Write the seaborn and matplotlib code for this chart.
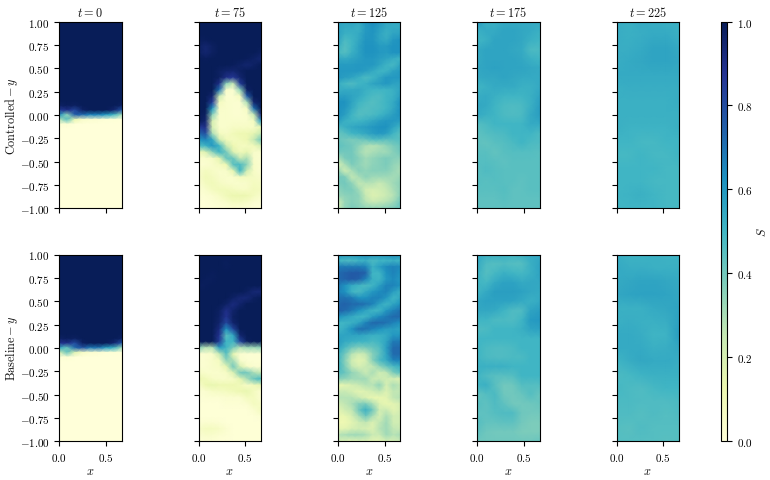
import numpy as np
import matplotlib
matplotlib.use("Agg")
import matplotlib.pyplot as plt
import seaborn as sns

# Saturation fields, in percent, rows run from y = 1 (top) to y = -1 (bottom),
# columns run from x = 0 to x = 2/3.
TOP = [100] * 9
BOTTOM = [0] * 9

CTRL_T0 = [TOP] * 18 + [
    [97, 99, 98, 100, 100, 100, 100, 100, 98],
    [85, 90, 82, 97, 100, 100, 100, 95, 78],
    [62, 35, 75, 72, 66, 66, 60, 50, 32],
    [28, 45, 14, 5, 3, 2, 1, 1, 0],
    [2, 2, 0, 0, 0, 0, 0, 0, 0],
] + [BOTTOM] * 18

BASE_T0 = [TOP] * 18 + [
    [97, 99, 98, 100, 100, 100, 100, 100, 98],
    [88, 90, 80, 98, 100, 100, 100, 95, 78],
    [55, 42, 72, 78, 68, 70, 58, 52, 32],
    [20, 42, 18, 6, 3, 2, 1, 1, 0],
    [1, 2, 0, 0, 0, 0, 0, 0, 0],
] + [BOTTOM] * 18

CTRL_T75 = [
    [100, 100, 100, 100, 100, 100, 100, 100, 100, 100],
    [100, 100, 100, 100, 100, 100, 100, 100, 100, 100],
    [100, 100, 100, 100, 100, 100, 100, 100, 100, 100],
    [99, 99, 100, 100, 100, 100, 100, 100, 100, 100],
    [98, 95, 98, 100, 100, 100, 100, 100, 100, 100],
    [98, 95, 98, 100, 100, 100, 100, 100, 100, 98],
    [100, 99, 100, 100, 100, 100, 100, 99, 97, 95],
    [100, 100, 100, 100, 100, 99, 97, 95, 97, 100],
    [100, 100, 100, 98, 96, 95, 98, 100, 100, 100],
    [100, 100, 100, 98, 90, 86, 95, 100, 100, 100],
    [100, 100, 100, 90, 35, 25, 85, 100, 100, 100],
    [100, 100, 100, 70, 5, 3, 35, 97, 100, 100],
    [100, 100, 95, 25, 3, 3, 8, 75, 100, 100],
    [100, 100, 85, 8, 4, 3, 3, 30, 95, 100],
    [100, 100, 60, 5, 4, 3, 3, 7, 70, 100],
    [100, 98, 35, 4, 4, 3, 3, 4, 25, 92],
    [100, 95, 20, 4, 4, 4, 4, 4, 8, 60],
    [85, 90, 20, 4, 4, 6, 6, 6, 6, 15],
    [72, 80, 30, 8, 6, 10, 12, 12, 15, 25],
    [60, 65, 55, 22, 10, 8, 10, 12, 25, 40],
    [45, 50, 60, 50, 25, 12, 8, 8, 10, 20],
    [10, 18, 35, 50, 40, 18, 10, 15, 5, 4],
    [3, 4, 6, 15, 42, 42, 25, 30, 5, 3],
    [3, 3, 5, 8, 12, 45, 48, 35, 6, 3],
    [4, 8, 6, 4, 5, 15, 50, 22, 6, 3],
    [5, 10, 8, 5, 4, 4, 8, 8, 7, 5],
    [3, 8, 10, 7, 5, 4, 4, 5, 8, 7],
    [2, 4, 8, 10, 10, 8, 6, 6, 9, 8],
    [1, 2, 3, 6, 10, 13, 13, 12, 8, 4],
    [1, 1, 2, 3, 5, 8, 8, 6, 3, 2],
    [0, 1, 1, 2, 2, 3, 2, 2, 1, 1],
]

BASE_T75 = [
    [100, 100, 100, 100, 100, 100, 100, 100, 100, 100],
    [100, 100, 100, 100, 99, 100, 100, 100, 100, 100],
    [100, 100, 100, 100, 99, 100, 100, 100, 100, 100],
    [100, 100, 99, 100, 100, 100, 100, 100, 100, 100],
    [100, 99, 99, 100, 100, 100, 100, 100, 100, 100],
    [99, 99, 100, 100, 100, 100, 100, 100, 100, 100],
    [100, 100, 100, 100, 100, 100, 100, 98, 94, 94],
    [100, 100, 100, 100, 100, 97, 94, 94, 98, 100],
    [100, 100, 100, 100, 97, 92, 96, 100, 100, 100],
    [100, 100, 100, 98, 90, 96, 100, 100, 100, 100],
    [100, 100, 100, 97, 88, 98, 100, 100, 100, 100],
    [100, 100, 100, 96, 82, 96, 100, 100, 100, 100],
    [100, 100, 100, 92, 62, 82, 100, 100, 100, 100],
    [100, 100, 100, 88, 45, 55, 95, 100, 100, 100],
    [100, 100, 100, 84, 50, 50, 82, 98, 100, 100],
    [36, 28, 28, 58, 50, 38, 28, 32, 32, 34],
    [3, 3, 5, 25, 45, 15, 3, 2, 2, 2],
    [2, 3, 5, 8, 35, 30, 4, 2, 2, 2],
    [3, 3, 5, 6, 15, 40, 20, 6, 3, 3],
    [6, 4, 4, 4, 6, 18, 40, 40, 30, 25],
    [12, 10, 6, 5, 5, 6, 15, 30, 42, 48],
    [4, 12, 14, 12, 12, 12, 10, 6, 10, 15],
    [2, 3, 6, 7, 8, 10, 12, 14, 8, 3],
    [1, 2, 2, 2, 3, 3, 3, 8, 8, 3],
    [1, 1, 1, 1, 2, 2, 2, 3, 8, 6],
    [1, 1, 1, 1, 1, 1, 1, 1, 3, 8],
    [1, 1, 1, 1, 1, 1, 1, 1, 1, 2],
    [2, 3, 3, 2, 1, 1, 1, 1, 1, 1],
    [5, 8, 8, 6, 3, 1, 1, 1, 1, 1],
    [3, 5, 4, 3, 2, 1, 1, 1, 1, 1],
    [1, 2, 2, 1, 1, 1, 1, 1, 1, 1],
]

CTRL_T125 = [
    [57, 55, 56, 54, 60, 64, 60, 55, 54, 54],
    [56, 54, 54, 52, 59, 62, 58, 54, 54, 54],
    [57, 52, 52, 54, 60, 61, 56, 52, 56, 57],
    [56, 48, 50, 55, 61, 61, 56, 54, 60, 62],
    [52, 46, 50, 57, 62, 62, 59, 59, 62, 62],
    [49, 46, 52, 57, 62, 62, 60, 59, 62, 62],
    [55, 54, 56, 58, 60, 60, 58, 56, 53, 50],
    [59, 59, 59, 60, 60, 60, 56, 51, 49, 56],
    [60, 60, 60, 60, 58, 54, 50, 51, 57, 59],
    [60, 58, 56, 52, 48, 50, 55, 60, 60, 60],
    [53, 49, 47, 50, 52, 56, 58, 60, 57, 56],
    [53, 54, 54, 55, 52, 50, 50, 50, 52, 56],
    [58, 58, 56, 54, 50, 48, 47, 50, 52, 58],
    [62, 62, 56, 50, 48, 46, 48, 50, 54, 62],
    [62, 60, 54, 48, 46, 47, 48, 50, 55, 62],
    [62, 58, 50, 46, 47, 48, 50, 54, 58, 62],
    [58, 52, 50, 50, 52, 55, 58, 60, 60, 58],
    [48, 52, 55, 57, 58, 60, 62, 62, 56, 50],
    [42, 45, 50, 52, 55, 58, 60, 58, 50, 45],
    [42, 40, 38, 40, 42, 46, 46, 44, 45, 45],
    [44, 42, 40, 35, 30, 28, 30, 34, 38, 42],
    [40, 40, 40, 33, 28, 30, 32, 32, 36, 40],
    [30, 38, 40, 36, 32, 34, 36, 38, 36, 35],
    [20, 30, 38, 35, 32, 35, 36, 38, 34, 32],
    [35, 22, 30, 36, 34, 36, 36, 36, 33, 30],
    [40, 38, 26, 30, 35, 32, 32, 32, 31, 33],
    [38, 40, 35, 26, 28, 28, 24, 28, 32, 35],
    [35, 38, 38, 32, 22, 20, 22, 25, 30, 35],
    [33, 35, 36, 35, 25, 18, 20, 24, 28, 36],
    [22, 33, 36, 34, 28, 24, 26, 28, 32, 40],
    [25, 34, 38, 36, 34, 34, 34, 36, 38, 42],
]

BASE_T125 = [
    [62, 60, 60, 62, 64, 62, 60, 62, 64, 62],
    [50, 48, 48, 50, 52, 48, 50, 50, 52, 50],
    [68, 68, 68, 68, 66, 52, 58, 64, 66, 64],
    [72, 74, 76, 76, 74, 50, 50, 62, 66, 62],
    [72, 74, 76, 74, 66, 52, 50, 60, 64, 60],
    [68, 62, 54, 50, 48, 50, 58, 66, 66, 62],
    [66, 62, 50, 48, 54, 60, 64, 66, 58, 52],
    [70, 70, 68, 62, 62, 66, 66, 60, 50, 55],
    [72, 74, 72, 72, 70, 66, 56, 50, 56, 62],
    [74, 72, 68, 62, 56, 50, 50, 60, 66, 70],
    [62, 58, 54, 50, 50, 58, 64, 68, 72, 72],
    [50, 50, 52, 56, 66, 72, 72, 70, 66, 62],
    [50, 54, 62, 70, 70, 66, 62, 58, 58, 56],
    [56, 56, 56, 56, 54, 52, 52, 54, 60, 60],
    [58, 54, 52, 50, 50, 48, 50, 56, 68, 68],
    [55, 48, 40, 36, 38, 42, 46, 58, 72, 72],
    [50, 40, 28, 22, 26, 36, 44, 56, 72, 72],
    [50, 36, 22, 16, 20, 36, 48, 54, 66, 66],
    [50, 38, 26, 20, 24, 26, 34, 42, 48, 52],
    [46, 42, 34, 30, 24, 30, 22, 26, 38, 44],
    [36, 34, 32, 32, 32, 24, 24, 22, 20, 18],
    [14, 16, 20, 24, 28, 28, 34, 20, 30, 26],
    [24, 24, 20, 16, 18, 22, 26, 18, 26, 26],
    [28, 28, 28, 24, 18, 14, 14, 16, 26, 28],
    [22, 26, 30, 36, 38, 30, 18, 14, 16, 20],
    [16, 22, 26, 40, 52, 40, 22, 24, 16, 20],
    [14, 14, 20, 30, 40, 30, 20, 30, 22, 22],
    [12, 12, 16, 22, 26, 18, 26, 32, 22, 22],
    [16, 16, 20, 22, 20, 18, 28, 32, 26, 24],
    [28, 30, 32, 32, 30, 24, 24, 32, 28, 30],
    [22, 18, 16, 18, 18, 16, 16, 20, 20, 24],
]

CTRL_T175 = [
    [60, 52, 52, 54, 54, 54, 54, 54],
    [52, 54, 54, 56, 56, 55, 54, 52],
    [50, 52, 56, 56, 56, 55, 52, 50],
    [54, 56, 56, 56, 55, 54, 48, 48],
    [54, 56, 56, 56, 56, 55, 52, 50],
    [55, 56, 57, 56, 56, 56, 55, 54],
    [54, 55, 55, 56, 55, 54, 54, 54],
    [50, 52, 54, 54, 54, 52, 52, 54],
    [53, 54, 52, 50, 50, 50, 52, 56],
    [55, 54, 50, 48, 47, 48, 52, 58],
    [54, 52, 50, 48, 47, 48, 54, 58],
    [46, 48, 50, 50, 50, 50, 54, 54],
    [44, 46, 47, 48, 50, 50, 50, 48],
    [44, 43, 45, 46, 48, 50, 48, 47],
    [45, 45, 43, 45, 46, 46, 46, 45],
    [46, 46, 45, 44, 45, 45, 45, 45],
    [45, 47, 46, 45, 45, 45, 45, 45],
    [46, 45, 46, 45, 45, 44, 45, 45],
    [45, 45, 45, 46, 44, 44, 45, 45],
    [44, 44, 44, 45, 44, 44, 44, 44],
    [44, 44, 44, 44, 44, 44, 44, 44],
]

BASE_T175 = [
    [54, 52, 52, 52, 50, 52, 54, 54],
    [54, 47, 46, 47, 46, 46, 52, 56],
    [52, 46, 49, 52, 50, 49, 52, 56],
    [50, 49, 54, 57, 57, 54, 55, 55],
    [50, 54, 58, 58, 58, 57, 55, 54],
    [55, 57, 57, 57, 56, 54, 52, 54],
    [55, 55, 54, 50, 47, 47, 56, 58],
    [50, 50, 48, 48, 47, 50, 59, 60],
    [47, 48, 50, 50, 50, 52, 56, 57],
    [50, 50, 50, 50, 50, 50, 50, 50],
    [50, 48, 47, 47, 48, 50, 50, 50],
    [50, 48, 47, 47, 48, 48, 50, 50],
    [52, 52, 52, 52, 50, 50, 50, 50],
    [50, 47, 45, 45, 46, 50, 50, 50],
    [50, 52, 45, 40, 41, 46, 46, 46],
    [43, 46, 48, 41, 40, 42, 46, 42],
    [46, 44, 47, 44, 40, 40, 41, 42],
    [44, 44, 46, 47, 47, 41, 40, 40],
    [46, 43, 43, 44, 44, 40, 38, 38],
    [44, 41, 40, 40, 40, 38, 38, 38],
    [41, 41, 41, 41, 41, 41, 41, 42],
]

CTRL_T225 = [
    [53, 52, 54, 53, 52, 52],
    [53, 52, 53, 54, 54, 52],
    [53, 53, 54, 56, 56, 54],
    [53, 54, 55, 56, 56, 55],
    [54, 54, 54, 54, 54, 54],
    [52, 53, 53, 53, 53, 53],
    [52, 52, 52, 52, 52, 53],
    [52, 52, 52, 52, 52, 52],
    [52, 51, 51, 51, 51, 52],
    [50, 50, 49, 49, 50, 50],
    [49, 49, 50, 49, 49, 50],
    [50, 50, 50, 50, 49, 49],
    [50, 50, 50, 49, 49, 49],
    [50, 51, 52, 50, 49, 49],
    [50, 50, 50, 50, 49, 49],
]

BASE_T225 = [
    [53, 51, 51, 52, 51, 51],
    [54, 53, 53, 52, 52, 52],
    [54, 55, 56, 56, 55, 54],
    [55, 56, 57, 57, 56, 55],
    [52, 52, 52, 54, 55, 56],
    [52, 53, 52, 52, 53, 57],
    [54, 54, 53, 50, 51, 58],
    [54, 54, 54, 52, 53, 55],
    [50, 53, 55, 54, 54, 53],
    [48, 49, 51, 52, 52, 52],
    [49, 48, 47, 49, 50, 50],
    [48, 48, 47, 47, 47, 48],
    [47, 47, 46, 47, 46, 47],
    [46, 45, 47, 46, 46, 46],
    [46, 46, 46, 46, 45, 46],
]

TIMES = [0, 75, 125, 175, 225]
ROW_NAMES = ["Controlled", "Baseline"]
FIELDS = [
    [CTRL_T0, CTRL_T75, CTRL_T125, CTRL_T175, CTRL_T225],
    [BASE_T0, BASE_T75, BASE_T125, BASE_T175, BASE_T225],
]
X_TICKS = [0.0, 0.5]
Y_TICKS = [-1.0, -0.75, -0.5, -0.25, 0.0, 0.25, 0.5, 0.75, 1.0]
CBAR_TICKS = [0.0, 0.2, 0.4, 0.6, 0.8, 1.0]
X_MAX = 2 / 3

sns.set_theme(style="ticks", rc={
    "axes.edgecolor": "black",
    "axes.linewidth": 0.8,
    "xtick.color": "black",
    "ytick.color": "black",
    "xtick.major.size": 3.5,
    "ytick.major.size": 3.5,
    "xtick.major.width": 0.8,
    "ytick.major.width": 0.8,
    "xtick.labelsize": 8,
    "ytick.labelsize": 8,
    "axes.labelsize": 8.8,
    "axes.titlesize": 8.8,
    "text.color": "#111111",
    "axes.labelcolor": "#111111",
    "mathtext.fontset": "cm",
})
plt.rcParams["font.family"] = ["cmr10", "DejaVu Serif"]
plt.rcParams["axes.formatter.use_mathtext"] = True

W, H = 770, 481
fig = plt.figure(figsize=(W / 100, H / 100), dpi=100)
cmap = sns.color_palette("YlGnBu", as_cmap=True)

COL_LEFT = [59.3, 198.6, 338.0, 477.3, 616.6]
ROW_SPAN = [(22.5, 209.3), (255.5, 442.3)]
PANEL_W = 62.2


def pixel_axes(left, top, right, bottom):
    return fig.add_axes([left / W, 1 - bottom / H, (right - left) / W, (bottom - top) / H])


def tex(value, digits):
    return f"${value:.{digits}f}$"


mesh = None
for r, (top, bottom) in enumerate(ROW_SPAN):
    for c, left in enumerate(COL_LEFT):
        ax = pixel_axes(left, top, left + PANEL_W, bottom)
        grid = np.asarray(FIELDS[r][c], dtype=float) / 100
        ny, nx = grid.shape
        sns.heatmap(grid, ax=ax, cmap=cmap, vmin=0, vmax=1, cbar=False,
                    xticklabels=False, yticklabels=False, shading="gouraud")
        mesh = ax.collections[0]
        ax.set_xlim(0, nx - 1)
        ax.set_ylim(ny - 1, 0)
        for spine in ax.spines.values():
            spine.set_visible(True)
            spine.set_linewidth(0.8)
            spine.set_color("black")
        ax.set_xticks([v / X_MAX * (nx - 1) for v in X_TICKS])
        ax.set_yticks([(1 - v) / 2 * (ny - 1) for v in Y_TICKS])
        ax.tick_params(axis="both", length=3.5, width=0.8, color="black", pad=3.5,
                       left=True, bottom=True)
        ax.set_xticklabels([tex(v, 1) for v in X_TICKS] if r == 1 else [])
        ax.set_yticklabels([tex(v, 2) for v in Y_TICKS] if c == 0 else [], rotation=0)
        if r == 0:
            ax.set_title(f"$t={TIMES[c]}$", pad=4)
        if r == 1:
            ax.set_xlabel("$x$", labelpad=1)
        else:
            ax.set_xlabel("")
        if c == 0:
            ax.set_ylabel(rf"$\mathrm{{{ROW_NAMES[r]}}}\,{{-}}\,y$")
            ax.yaxis.set_label_coords(-0.63, 0.5)
        else:
            ax.set_ylabel("")

cax = pixel_axes(720.5, 22.5, 727, 442.3)
cbar = fig.colorbar(mesh, cax=cax)
cbar.set_ticks(CBAR_TICKS)
cbar.set_ticklabels([tex(v, 1) for v in CBAR_TICKS])
cbar.set_label("$S$", labelpad=2.5)
cbar.outline.set_linewidth(0.8)
cbar.outline.set_edgecolor("black")
cbar.ax.tick_params(length=3.5, width=0.8, pad=3.5)

fig.savefig("out.png", dpi=100)
